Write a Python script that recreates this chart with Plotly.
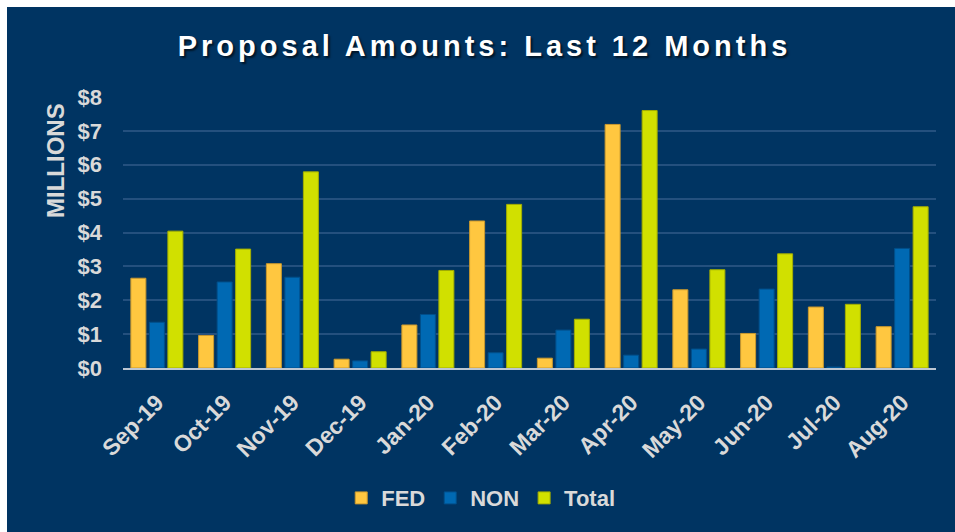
import plotly.graph_objects as go

months = ["Sep-19", "Oct-19", "Nov-19", "Dec-19", "Jan-20", "Feb-20",
          "Mar-20", "Apr-20", "May-20", "Jun-20", "Jul-20", "Aug-20"]
fed = [2.65, 0.96, 3.08, 0.26, 1.27, 4.34, 0.29, 7.19, 2.31, 1.02, 1.80, 1.22]
non = [1.35, 2.54, 2.68, 0.21, 1.58, 0.45, 1.12, 0.38, 0.56, 2.33, 0.03, 3.53]
total = [4.04, 3.51, 5.79, 0.48, 2.88, 4.83, 1.44, 7.60, 2.90, 3.37, 1.88, 4.76]
y_ticks = [0, 1, 2, 3, 4, 5, 6, 7, 8]
y_tick_labels = ["$0", "$1", "$2", "$3", "$4", "$5", "$6", "$7", "$8"]

NAVY = "#003462"
LABEL = "#D9D9D9"
FONT = "Liberation Sans, Arial, sans-serif"

OFF = 7  # page offset of the figure (white frame at top/left)
W, H = 955 - OFF, 532 - OFF
L, T = 123 - OFF, 97 - OFF
R, B = 955 - 936, 532 - 368
PH = H - T - B
PW = W - L - R

fig = go.Figure()
fig.add_trace(go.Bar(name="FED", x=months, y=fed,
                     marker=dict(color="#FFC740", line=dict(color="#C9982E", width=1))))
fig.add_trace(go.Bar(name="NON", x=months, y=non,
                     marker=dict(color="#0069B3", line=dict(color="#004F8A", width=1))))
fig.add_trace(go.Bar(name="Total", x=months, y=total,
                     marker=dict(color="#D1E000", line=dict(color="#A3AE00", width=1))))

fig.update_layout(
    width=W, height=H,
    paper_bgcolor=NAVY, plot_bgcolor=NAVY,
    margin=dict(l=L, r=R, t=T, b=B),
    barmode="group", bargap=0.18, bargroupgap=0.19,
    font=dict(family=FONT, color=LABEL),
    title=dict(text="<b>Proposal Amounts: Last 12 Months</b>",
               font=dict(family=FONT, size=29, color="#FFFFFF",
                         shadow="2px 2px 2px rgba(0,0,0,0.6)"),
               x=(484.5 - OFF) / W, xref="container", xanchor="center",
               y=1 - (46 - OFF) / H, yref="container", yanchor="middle"),
    xaxis=dict(showgrid=False, showline=True, linecolor="#BCC6D2", linewidth=2,
               tickangle=-45, ticklabelstandoff=10,
               tickfont=dict(family=FONT, size=23, color=LABEL, weight="bold")),
    yaxis=dict(range=[0, 8], tickmode="array", tickvals=y_ticks, ticktext=y_tick_labels,
               showgrid=True, gridcolor="#24507E", gridwidth=1.5,
               zeroline=False, showline=False, ticklabelstandoff=20,
               tickfont=dict(family=FONT, size=22, color=LABEL, weight="bold")),
    legend=dict(orientation="h", x=0.44, xanchor="center", y=-0.48, yanchor="middle",
                font=dict(family=FONT, size=22, color=LABEL, weight="bold"),
                bgcolor="rgba(0,0,0,0)"),
    showlegend=True,
)

fig.add_annotation(text="<b>MILLIONS</b>", textangle=-90,
                   xref="paper", yref="paper", x=(55 - 123) / PW, y=(368 - 161) / PH,
                   showarrow=False, xanchor="center", yanchor="middle",
                   font=dict(family=FONT, size=24, color=LABEL))

post = ("document.documentElement.style.overflow='hidden';"
        "document.body.style.overflow='hidden';"
        "document.body.style.margin='" + str(OFF) + "px 0 0 " + str(OFF) + "px';"
        "document.querySelectorAll('.gtitle').forEach(function(e){e.style.letterSpacing='4px';});")
fig.write_html("out.html", post_script=post)
